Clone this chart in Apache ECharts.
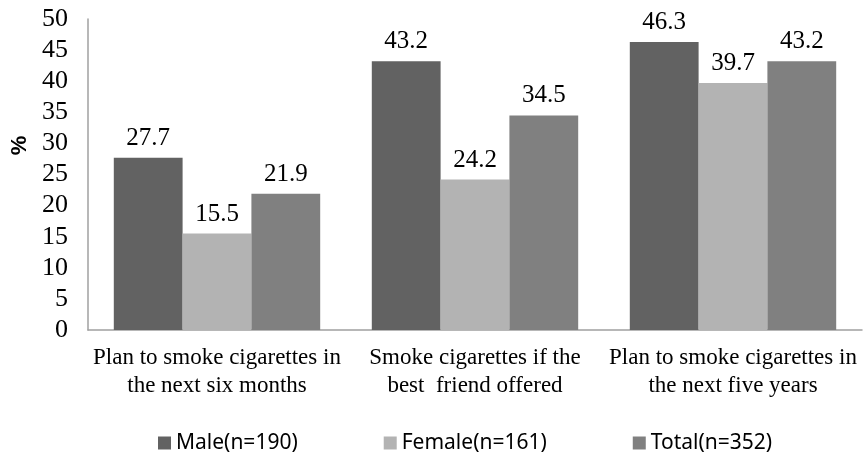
<!DOCTYPE html>
<html>
<head>
<meta charset="utf-8">
<script src="https://cdn.jsdelivr.net/npm/echarts@6/dist/echarts.min.js"></script>
<style>
html,body{margin:0;padding:0;background:#fff;}
#c{width:865px;height:457px;}
</style>
</head>
<body>
<div id="c"></div>
<script>
const categories = [
  "Plan to smoke cigarettes in\nthe next six months",
  "Smoke cigarettes if the\nbest  friend offered",
  "Plan to smoke cigarettes in\nthe next five years"
];
const seriesNames = ["Male(n=190)", "Female(n=161)", "Total(n=352)"];
const maleValues = [27.7, 43.2, 46.3];
const femaleValues = [15.5, 24.2, 39.7];
const totalValues = [21.9, 34.5, 43.2];
const colors = ["#626262", "#b3b3b3", "#808080"];

const serif = "'Liberation Serif', 'Times New Roman', serif";
const chart = echarts.init(document.getElementById('c'));
function mk(name, data, color) {
  return {
    name: name,
    type: 'bar',
    data: data,
    barGap: '0%',
    barCategoryGap: '20%',
    itemStyle: { color: color },
    label: {
      show: true,
      position: 'top',
      distance: 7,
      fontFamily: serif,
      fontSize: 25,
      color: '#000'
    }
  };
}
chart.setOption({
  animation: false,
  color: colors,
  grid: { left: 88, right: 3, top: 19, bottom: 127, containLabel: false, outerBoundsMode: 'none' },
  legend: {
    data: seriesNames,
    left: 158,
    top: 431,
    padding: 0,
    icon: 'rect',
    itemWidth: 13,
    itemHeight: 13,
    itemGap: 86,
    textStyle: { fontFamily: "'Noto Sans', sans-serif", fontSize: 21, color: '#000', lineHeight: 24 }
  },
  xAxis: {
    type: 'category',
    data: categories,
    axisLine: { show: true, lineStyle: { color: '#a0a0a0', width: 1.5 } },
    axisTick: { show: false },
    axisLabel: {
      interval: 0,
      margin: 14,
      fontFamily: serif,
      fontSize: 23,
      lineHeight: 28,
      color: '#000',
      align: 'center'
    }
  },
  yAxis: {
    type: 'value',
    min: 0,
    max: 50,
    interval: 5,
    name: '%',
    nameLocation: 'middle',
    nameRotate: 90,
    nameGap: 57,
    nameTextStyle: { fontFamily: "'Liberation Sans', Arial, sans-serif", fontWeight: 'bold', fontSize: 22, color: '#000', padding: [0, 0, 0, 58] },
    axisLine: { show: true, lineStyle: { color: '#a0a0a0', width: 1.5 } },
    axisTick: { show: false },
    splitLine: { show: false },
    axisLabel: { margin: 20, fontFamily: serif, fontSize: 26, color: '#000' }
  },
  series: [
    mk(seriesNames[0], maleValues, colors[0]),
    mk(seriesNames[1], femaleValues, colors[1]),
    mk(seriesNames[2], totalValues, colors[2])
  ]
});
</script>
</body>
</html>
